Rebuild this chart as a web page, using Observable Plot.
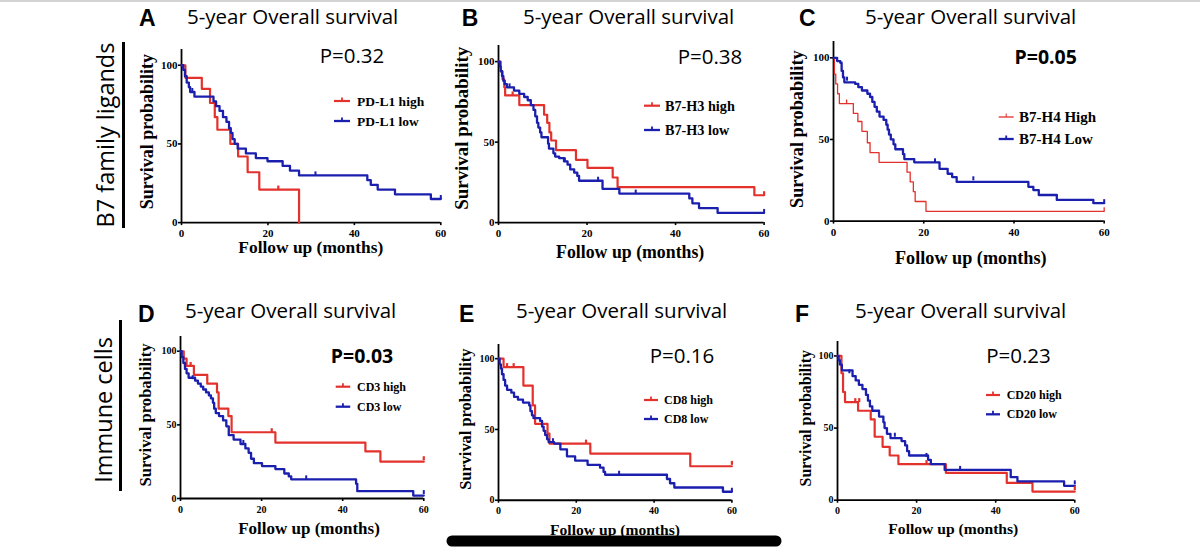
<!DOCTYPE html>
<html><head><meta charset="utf-8">
<script src="https://cdn.jsdelivr.net/npm/d3@7"></script>
<script src="https://cdn.jsdelivr.net/npm/@observablehq/plot@0.6"></script>
<style>
html,body{margin:0;padding:0;background:#fff;}
#root{position:relative;width:1200px;height:554px;overflow:hidden;background:#fff;}
#root svg{position:absolute;}
</style></head><body><div id="root"></div>
<script>
// ---------- DATA (time in months, survival %) ----------
const panelLetters = ["A","B","C","D","E","F"];
const panelTitle = "5-year Overall survival";
const pValues = ["P=0.32","P=0.38","P=0.05","P=0.03","P=0.16","P=0.23"];
const pSignificant = [false,false,true,true,false,false];
const highLabels = ["PD-L1 high","B7-H3 high","B7-H4 High","CD3 high","CD8 high","CD20 high"];
const lowLabels = ["PD-L1 low","B7-H3 low","B7-H4 Low","CD3 low","CD8 low","CD20 low"];
const groupLabels = ["B7 family ligands","Immune cells"];
const xTicks = [0,20,40,60];
const yTicks = [0,50,100];
const xLabel = "Follow up (months)";
const yLabel = "Survival probability";

const pdl1High = [[0,100],[0.9,92],[4.7,85],[6.6,76],[7.7,67],[8.3,59],[11.3,50],[13.1,42],[15.3,32],[18,21],[27.2,0]];
const pdl1HighCens = [[22.4,21]];
const pdl1Low = [[0,100],[0.4,97],[0.8,93],[1.2,89],[1.7,86],[2.0,83],[3.0,80],[7.4,77],[8.0,74],[8.8,71],[9.6,67],[10.4,64],[11.0,60],[11.4,57],[11.8,53],[12.3,50],[13.0,47],[14.9,44],[17.2,41],[19.9,39],[23.4,36],[25.1,33],[27.2,30],[43.0,27],[43.8,24],[45.4,21],[49.4,18],[57.7,15],[60,15]];
const pdl1LowCens = [[2.5,83],[31,30],[60,15]];

const b7h3High = [[0,100],[0.5,94],[0.9,89],[1.3,84],[1.5,79],[4.7,73],[10.3,67],[11.0,62],[11.5,56],[11.9,51],[13.0,45],[17.5,39],[20.1,34],[25.8,28],[26.9,22],[57.8,17],[60,17]];
const b7h3HighCens = [[3.2,79],[60,17]];
const b7h3Low = [[0,100],[0.3,97],[0.5,94],[0.8,91],[1.1,88],[1.4,86],[1.9,84],[3.5,82],[4.7,80],[5.8,78],[6.6,76],[7.3,73],[7.9,70],[8.3,66],[8.7,62],[9.0,59],[9.4,56],[9.7,53],[11.2,49],[11.4,46],[12.4,43],[12.8,41],[13.7,40],[14.8,38],[15.6,36],[16.2,33],[17.1,31],[17.8,29],[18.2,26],[23.5,21],[27.3,18],[43.1,15],[43.8,12],[45.3,9],[49.5,6],[60,6]];
const b7h3LowCens = [[2.5,84],[15,38],[22.5,26],[31,18],[60,6]];

const b7h4High = [[0,100],[0.2,90],[0.5,84],[0.9,78],[1.3,72],[4.4,66],[5.4,61],[6.3,55],[7.5,48],[8.1,42],[10.1,36],[16.3,30],[17.0,24],[17.7,18],[18.1,12],[20.5,6],[60,6]];
const b7h4HighCens = [[2.9,72],[60,6]];
const b7h4Low = [[0,100],[0.8,98],[1.5,97],[1.8,92],[2.1,88],[2.4,85],[4.8,84],[5.5,82],[6.3,80],[7.5,78],[8.1,76],[8.6,73],[9.1,70],[9.6,67],[10.2,64],[11.1,62],[11.7,59],[12.0,56],[12.3,53],[12.7,50],[13.3,47],[13.7,44],[15.4,41],[15.7,38],[17.9,36],[23.5,32],[25.3,29],[26.3,27],[27.3,24],[43.2,21],[44.3,19],[45.5,16],[49.5,13],[57.6,11],[60,11]];
const b7h4LowCens = [[3.0,86],[22.5,36],[31,25],[60,11]];

const cd3High = [[0,100],[0.8,95],[1.5,90],[3.3,84],[6.6,78],[9.0,72],[9.4,61],[11.8,56],[12.6,45],[23.4,38],[45.6,32],[49.3,25],[60,25]];
const cd3HighCens = [[2.5,90],[22.5,45],[60,26]];
const cd3Low = [[0,100],[0.3,96],[0.7,92],[1.1,88],[1.5,85],[2.0,82],[3.6,80],[4.3,78],[5.0,76],[5.6,74],[6.3,72],[7.0,70],[7.5,68],[8.0,65],[8.3,61],[8.7,58],[9.5,56],[10.5,53],[11.3,49],[11.9,43],[13.1,40],[14.8,37],[16.0,34],[16.8,31],[17.4,27],[18.1,24],[20.1,22],[23.4,20],[25.6,17],[26.7,15],[27.3,13],[43.3,10],[43.6,5],[57.4,2],[60,2]];
const cd3LowCens = [[3,81],[15.5,37],[31,13],[60,3]];

const cd8High = [[0,100],[1.3,94],[6.4,81],[8.8,67],[9.4,54],[12.6,47],[13.1,40],[23.6,33],[49.3,24],[60,24]];
const cd8HighCens = [[2.2,94],[3.9,94],[22.5,40],[60,25]];
const cd8Low = [[0,100],[0.3,96],[0.6,93],[0.9,89],[1.3,85],[1.7,81],[2.2,78],[3.3,76],[4.0,73],[5.0,71],[6.3,69],[7.9,67],[8.2,63],[8.6,60],[9.0,58],[10.7,56],[11.2,52],[11.6,49],[12.0,46],[12.5,43],[12.9,41],[14.3,40],[15.9,36],[17.6,31],[19.7,28],[22.9,25],[26.1,23],[27.0,20],[27.4,18],[43.3,15],[44.1,12],[45.2,9],[57.7,6],[60,6]];
const cd8LowCens = [[14,41],[31,18],[60,6]];

const cd20High = [[0,100],[1.0,88],[1.4,75],[1.9,68],[5.2,62],[8.4,56],[9.4,44],[11.4,37],[13.2,31],[15.4,25],[27.4,19],[42.8,12],[49.3,6],[60,6]];
const cd20HighCens = [[4.5,68],[5.5,68],[22.5,25],[60,7]];
const cd20Low = [[0,100],[0.3,97],[0.6,94],[1.1,90],[3.8,86],[4.6,83],[5.4,80],[6.3,77],[7.2,73],[7.7,69],[8.2,65],[8.8,62],[10.5,58],[11.6,54],[11.9,50],[12.5,46],[13.4,43],[16.2,41],[17.1,38],[17.6,34],[18.1,31],[22.9,28],[23.6,25],[27.1,21],[43.8,16],[45.5,13],[57.3,10],[60,10]];
const cd20LowCens = [[3,88],[14.5,44],[22.5,30],[31,21],[60,11]];

const highSeries = [pdl1High,b7h3High,b7h4High,cd3High,cd8High,cd20High];
const highCensored = [pdl1HighCens,b7h3HighCens,b7h4HighCens,cd3HighCens,cd8HighCens,cd20HighCens];
const lowSeries = [pdl1Low,b7h3Low,b7h4Low,cd3Low,cd8Low,cd20Low];
const lowCensored = [pdl1LowCens,b7h3LowCens,b7h4LowCens,cd3LowCens,cd8LowCens,cd20LowCens];

// ---------- LAYOUT / STYLE ----------
const RED = "#e3312c", BLUE = "#1b1fae";
const SERIF = "'Liberation Serif','Times New Roman',serif";
const SANS = "'Open Sans','Noto Sans',sans-serif";
const ARIAL = "'Liberation Sans',Arial,sans-serif";
const layout = [
  {x0:180.7,x60:440,y0:221.7,y100:64.3,tick:11,redW:2.2,
   yl:{x:146.7,y:131.7,fs:18},xl:{x:310.8,y:253,fs:17.4},
   leg:{lx:334,len:16,y1:101,y2:121,tx:357,fs:13.5},p:{x:352,y:62.7},
   t:{lx:139,ly:26,tx:187,ty:23.5}},
  {x0:497.7,x60:763.3,y0:221.7,y100:60.7,tick:11,redW:2.2,
   yl:{x:461.7,y:128.3,fs:18.9},xl:{x:630.2,y:258.3,fs:17.8},
   leg:{lx:644,len:16,y1:105.7,y2:130,tx:665,fs:14.2},p:{x:710,y:64},
   t:{lx:461.7,ly:26,tx:523,ty:23.5}},
  {x0:833.3,x60:1104,y0:221,y100:57.7,tick:11,redW:1.3,
   yl:{x:796.7,y:129.2,fs:18.3},xl:{x:970.8,y:264,fs:18.2},
   leg:{lx:998.7,len:15,y1:117,y2:139,tx:1019,fs:15},p:{x:1045.7,y:64},
   t:{lx:799,ly:26,tx:865,ty:23.5}},
  {x0:180,x60:423.3,y0:498.3,y100:351,tick:10,redW:2.2,
   yl:{x:145,y:415,fs:16.6},xl:{x:309,y:534,fs:17},
   leg:{lx:335.7,len:14.5,y1:386.7,y2:406.7,tx:357,fs:12},p:{x:362,y:362.7},
   t:{lx:138,ly:321.7,tx:185,ty:318.3}},
  {x0:498.3,x60:731.7,y0:499.3,y100:357.7,tick:10,redW:2.2,
   yl:{x:465,y:419.2,fs:16.4},xl:{x:615,y:535,fs:15.6},
   leg:{lx:644,len:14,y1:400,y2:419,tx:664,fs:12},p:{x:682,y:363.3},
   t:{lx:459,ly:321.7,tx:516,ty:318.3}},
  {x0:836.7,x60:1074,y0:499.3,y100:355,tick:10,redW:2.2,
   yl:{x:805,y:418.3,fs:15.8},xl:{x:953.3,y:534,fs:15.6},
   leg:{lx:986,len:14,y1:395,y2:414.3,tx:1006.7,fs:12},p:{x:1018.5,y:363.3},
   t:{lx:795,ly:321.7,tx:855,ty:318.3}}
];

const root = document.getElementById("root");
const toRows = pairs => pairs.map(([t,s]) => ({t, s}));
const censorSymbol = {draw(ctx, size){ const r = Math.sqrt(size/Math.PI); ctx.moveTo(0,0); ctx.lineTo(0,-r); }};

layout.forEach((L, i) => {
  const ML = 34, MR = 8, MT = 4, MB = 22;
  const iw = L.x60 - L.x0, ih = (L.y0 - L.y100) * 1.1;
  const chart = Plot.plot({
    width: ML + iw + MR, height: MT + ih + MB,
    marginLeft: ML, marginRight: MR, marginTop: MT, marginBottom: MB,
    x: {domain: [0, 60]}, y: {domain: [0, 110]},
    style: {background: "transparent", fontFamily: SERIF, fontWeight: "bold", fontSize: L.tick + "px", color: "#000", overflow: "visible"},
    marks: [
      Plot.axisX({ticks: xTicks, tickSize: 3, tickPadding: 4, label: null, strokeWidth: 1.6}),
      Plot.axisY({ticks: yTicks, tickSize: 3, tickPadding: 1, label: null, strokeWidth: 1.6}),
      Plot.ruleX([0], {stroke: "#000", strokeWidth: 1.8}),
      Plot.ruleY([0], {stroke: "#000", strokeWidth: 1.8}),
      Plot.line(toRows(highSeries[i]), {x: "t", y: "s", curve: "step-after", stroke: RED, strokeWidth: L.redW}),
      Plot.line(toRows(lowSeries[i]), {x: "t", y: "s", curve: "step-after", stroke: BLUE, strokeWidth: 2.3}),
      Plot.dot(toRows(highCensored[i]), {x: "t", y: "s", symbol: censorSymbol, r: 4, fill: "none", stroke: RED, strokeWidth: L.redW}),
      Plot.dot(toRows(lowCensored[i]), {x: "t", y: "s", symbol: censorSymbol, r: 4, fill: "none", stroke: BLUE, strokeWidth: 2})
    ]
  });
  chart.style.left = (L.x0 - ML) + "px";
  chart.style.top = (L.y0 - ih - MT) + "px";
  root.appendChild(chart);
});

// ---------- annotations ----------
const ann = d3.select(root).append("svg").attr("width", 1200).attr("height", 554).style("left", "0px").style("top", "0px");
ann.append("rect").attr("x", 0).attr("y", 0).attr("width", 1200).attr("height", 2).attr("fill", "#d4d4d4");

layout.forEach((L, i) => {
  ann.append("text").attr("x", L.t.lx).attr("y", L.t.ly).attr("font-family", ARIAL).attr("font-weight", "bold").attr("font-size", 23).text(panelLetters[i]);
  ann.append("text").attr("x", L.t.tx).attr("y", L.t.ty).attr("font-family", SANS).attr("font-size", 20.5).text(panelTitle);
  ann.append("text").attr("x", L.p.x).attr("y", L.p.y).attr("text-anchor", "middle").attr("font-family", SANS)
    .attr("font-weight", pSignificant[i] ? "bold" : "normal").attr("font-size", pSignificant[i] ? 19.5 : 20.5).text(pValues[i]);
  ann.append("text").attr("transform", `translate(${L.yl.x},${L.yl.y}) rotate(-90)`).attr("text-anchor", "middle").attr("dominant-baseline", "central")
    .attr("font-family", SERIF).attr("font-weight", "bold").attr("font-size", L.yl.fs).text(yLabel);
  ann.append("text").attr("x", L.xl.x).attr("y", L.xl.y).attr("text-anchor", "middle")
    .attr("font-family", SERIF).attr("font-weight", "bold").attr("font-size", L.xl.fs).text(xLabel);
  [[L.leg.y1, RED, highLabels[i], L.redW], [L.leg.y2, BLUE, lowLabels[i], 2.3]].forEach(([y, c, lab, w]) => {
    ann.append("line").attr("x1", L.leg.lx).attr("x2", L.leg.lx + L.leg.len).attr("y1", y).attr("y2", y).attr("stroke", c).attr("stroke-width", w);
    const mx = L.leg.lx + L.leg.len / 2;
    ann.append("line").attr("x1", mx).attr("x2", mx).attr("y1", y).attr("y2", y - 3.5).attr("stroke", c).attr("stroke-width", w * 0.8);
    ann.append("text").attr("x", L.leg.tx).attr("y", y).attr("dominant-baseline", "central")
      .attr("font-family", SERIF).attr("font-weight", "bold").attr("font-size", L.leg.fs).text(lab);
  });
});

// group labels with vertical bars
[[groupLabels[0], 105, 135, 123.5, 42, 228], [groupLabels[1], 103, 410, 120.5, 320, 491]].forEach(([lab, x, y, bx, by1, by2]) => {
  ann.append("text").attr("transform", `translate(${x},${y}) rotate(-90)`).attr("text-anchor", "middle").attr("dominant-baseline", "central")
    .attr("font-family", SANS).attr("font-size", 23.5).text(lab);
  ann.append("line").attr("x1", bx).attr("x2", bx).attr("y1", by1).attr("y2", by2).attr("stroke", "#000").attr("stroke-width", 3);
});

// bottom scroll bar artifact
ann.append("line").attr("x1", 452).attr("x2", 776).attr("y1", 541).attr("y2", 541).attr("stroke", "#000").attr("stroke-width", 11).attr("stroke-linecap", "round");
</script>
</body></html>
